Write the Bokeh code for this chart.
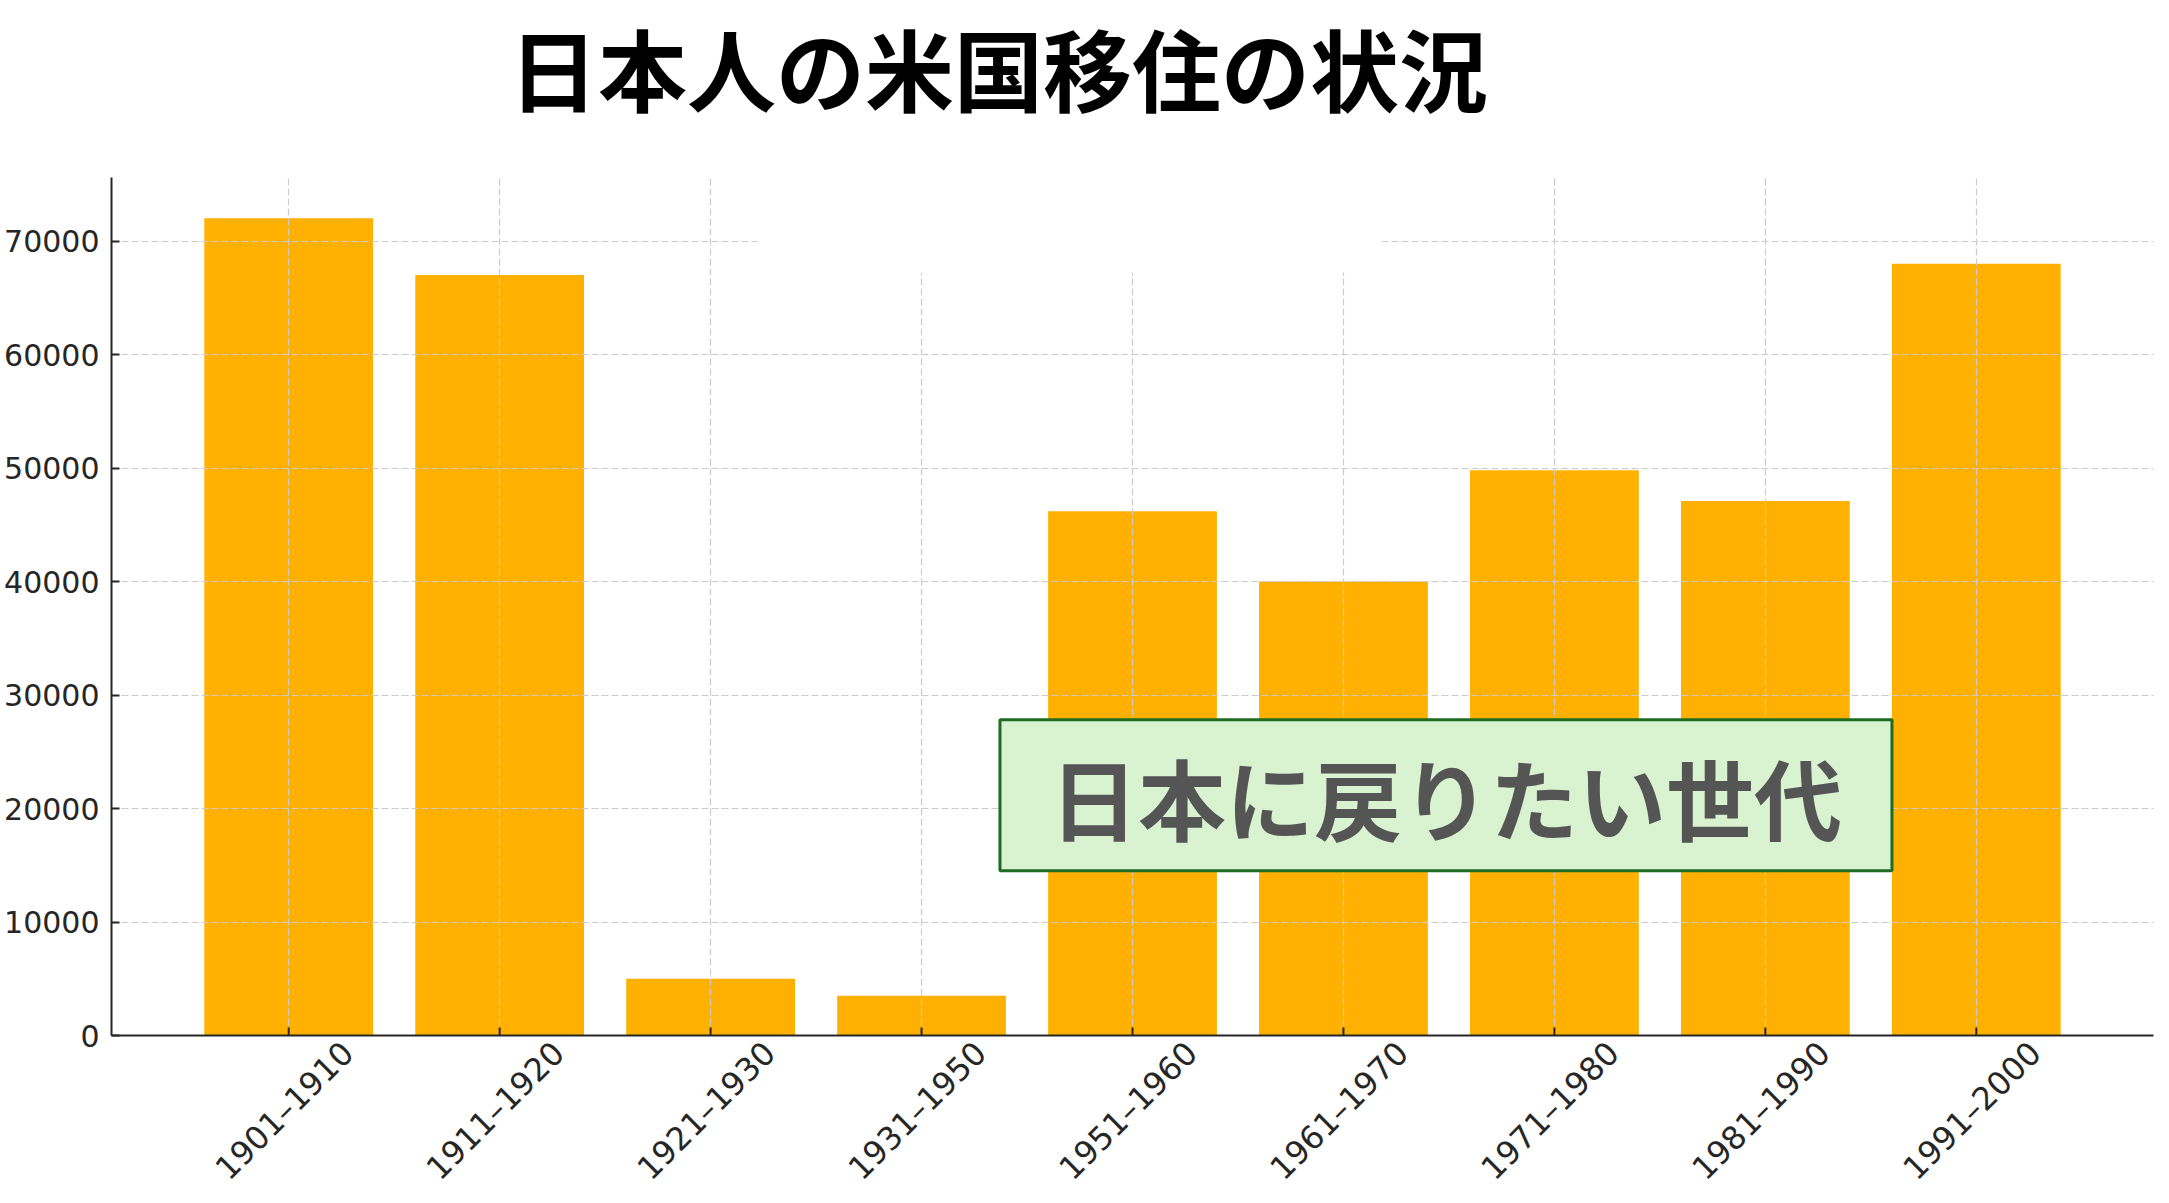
import math
from bokeh.plotting import figure
from bokeh.layouts import column
from bokeh.models import (Range1d, FixedTicker, ColumnDataSource, Label, BoxAnnotation, LinearAxis)
from bokeh.embed import file_html
from bokeh.resources import INLINE

# ---- data ----
categories = ["1901–1910", "1911–1920", "1921–1930", "1931–1950", "1951–1960",
              "1961–1970", "1971–1980", "1981–1990", "1991–2000"]
immigrants = [72000, 67000, 5000, 3500, 46200, 40000, 49800, 47100, 68000]
y_ticks = [0, 10000, 20000, 30000, 40000, 50000, 60000, 70000]
y_tick_labels = ["0", "10000", "20000", "30000", "40000", "50000", "60000", "70000"]
title_text = "日本人の米国移住の状況"
note_text = "日本に戻りたい世代"

# ---- layout ----
W = 2169
H_TITLE, H_MAIN = 150, 1053
BL, BR = 111, 16
idx = list(range(len(categories)))
x_lo, x_hi = -0.84, len(categories) - 1 + 0.84
y_hi = max(immigrants) * 1.05
FRAME_H = 858
tick_len = 8 / FRAME_H * y_hi          # 8 px inward ticks
label_shift = 0.28                      # centres the rotated labels under the ticks

# ---- title strip (x in page pixels) ----
ft = figure(width=W, height=H_TITLE, output_backend="svg", toolbar_location=None,
            x_range=Range1d(BL, W - BR), y_range=Range1d(H_TITLE, 0),
            x_axis_location=None, y_axis_location=None,
            min_border_left=BL, min_border_right=BR, min_border_top=0, min_border_bottom=0)
ft.outline_line_color = None
ft.grid.visible = False
ft.add_layout(Label(x=998, y=66, text=title_text, text_align="center",
                    text_baseline="middle", text_font="Noto Sans CJK JP",
                    text_font_style="bold", text_font_size="89px", text_color="black"))

# ---- main chart ----
p = figure(width=W, height=H_MAIN, output_backend="svg", toolbar_location=None,
           x_range=Range1d(x_lo, x_hi), y_range=Range1d(0, y_hi),
           x_axis_location=None,
           min_border_left=BL, min_border_right=BR, min_border_top=27,
           min_border_bottom=0)
p.outline_line_color = None

src = ColumnDataSource(dict(x=idx, top=immigrants))
p.vbar(x="x", top="top", bottom=0, width=0.8, source=src,
       fill_color="#FFB000", line_color=None)

# inward x ticks at the bar centres
ticks = p.segment(x0=idx, y0=[0] * len(idx), x1=idx, y1=[tick_len] * len(idx),
                  line_color="#262626", line_width=2)
ticks.level = "annotation"

# y axis
p.yaxis.ticker = FixedTicker(ticks=y_ticks)
p.yaxis.major_label_overrides = {t: s for t, s in zip(y_ticks, y_tick_labels)}
p.yaxis.axis_line_color = "#262626"
p.yaxis.axis_line_width = 2
p.yaxis.major_tick_line_color = "#262626"
p.yaxis.major_tick_line_width = 2
p.yaxis.major_tick_in = 8
p.yaxis.major_tick_out = 0
p.yaxis.minor_tick_line_color = None
p.yaxis.major_label_text_font = "DejaVu Sans"
p.yaxis.major_label_text_font_size = "30px"
p.yaxis.major_label_text_color = "#262626"
p.yaxis.major_label_standoff = 12
p.yaxis.level = "annotation"

# x axis: category labels on a shifted copy of the x range, rotated 45 degrees
p.extra_x_ranges = {"labels": Range1d(x_lo - label_shift, x_hi - label_shift)}
xa = LinearAxis(x_range_name="labels", ticker=FixedTicker(ticks=idx),
                major_label_overrides={i: c for i, c in zip(idx, categories)})
xa.axis_line_color = "#262626"
xa.axis_line_width = 2
xa.major_tick_line_color = None
xa.minor_tick_line_color = None
xa.major_label_orientation = math.pi / 4
xa.major_label_standoff = 6
xa.major_label_text_font = "DejaVu Sans"
xa.major_label_text_font_size = "32px"
xa.major_label_text_color = "#262626"
xa.level = "annotation"
p.add_layout(xa, "below")

# grids drawn above the bars
p.xgrid.ticker = FixedTicker(ticks=idx)
p.ygrid.ticker = FixedTicker(ticks=y_ticks)
for g in (p.xgrid, p.ygrid):
    g.grid_line_color = "#cccccc"
    g.grid_line_dash = "7 3"
    g.grid_line_width = 1.2
    g.level = "guide"

# white patch present in the reference over the top grid area
p.add_layout(BoxAnnotation(left=2.224, right=5.181, bottom=67224, top=y_hi,
                           fill_color="white", fill_alpha=1.0, line_color=None))

p.add_layout(Label(x=5.486, y=(1034.5 - 794.5) / 857.5 * y_hi, text=note_text,
                   text_align="center", text_baseline="middle",
                   text_font="Noto Sans CJK JP", text_font_style="bold",
                   text_font_size="88px", text_color="#555555",
                   background_fill_color="#d9f2d0", background_fill_alpha=1.0,
                   border_line_color="#1e6b22", border_line_width=3,
                   padding=dict(top=12, right=50, bottom=12, left=50)))

open("out.html", "w").write(file_html(column(ft, p, spacing=0), INLINE))
